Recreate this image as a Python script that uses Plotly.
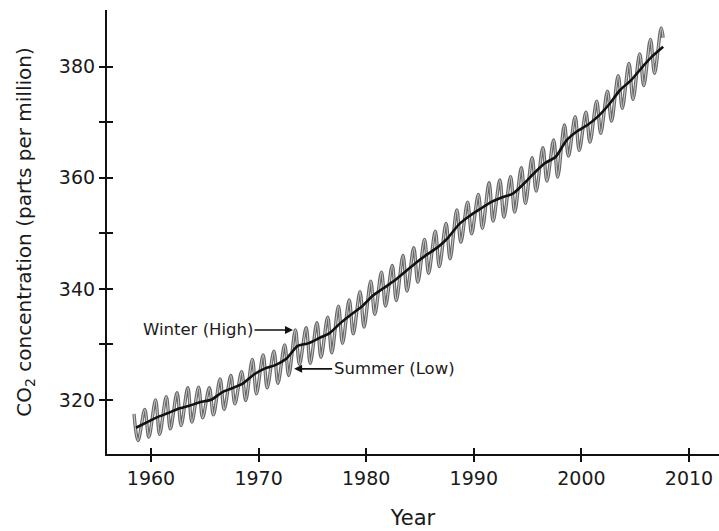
import plotly.graph_objects as go

# ---- data ----
trend_years = list(range(1958, 2008))
trend_ppm = [315.0, 315.97, 316.91, 317.64, 318.45, 318.99, 319.62, 320.04, 321.38, 322.16,
             323.04, 324.62, 325.68, 326.32, 327.45, 329.68, 330.18, 331.11, 332.04, 333.83,
             335.40, 336.84, 338.75, 340.11, 341.45, 343.05, 344.65, 346.12, 347.42, 349.19,
             351.57, 353.12, 354.39, 355.61, 356.45, 357.10, 358.83, 360.82, 362.61, 363.73,
             366.70, 368.38, 369.55, 371.14, 373.28, 375.80, 377.52, 379.80, 381.90, 383.60]

# seasonal maxima (late spring) and minima (early autumn), one per year
season_years = list(range(1958, 2008))
season_high = [317.5, 318.3, 320.0, 320.6, 321.3, 322.2, 322.3, 322.2, 323.8, 324.4,
               325.1, 327.3, 328.1, 328.8, 329.9, 332.6, 333.0, 333.9, 334.9, 336.9,
               338.0, 339.5, 341.4, 343.0, 344.2, 346.0, 347.4, 348.9, 350.4, 351.8,
               354.2, 355.6, 357.0, 359.1, 359.6, 360.2, 361.8, 363.6, 365.4, 366.8,
               369.5, 371.0, 371.8, 373.8, 375.6, 378.4, 380.6, 382.3, 384.9, 387.0]
season_low = [312.7, 313.3, 313.8, 314.8, 315.4, 316.0, 316.8, 317.3, 318.3, 319.3,
              319.9, 321.1, 322.2, 323.0, 324.4, 326.4, 326.6, 327.7, 328.5, 330.2,
              331.9, 333.1, 335.4, 336.9, 337.9, 339.6, 341.2, 342.8, 344.0, 345.4,
              348.4, 349.9, 350.9, 352.2, 352.9, 353.8, 355.4, 357.6, 359.4, 360.1,
              363.9, 364.9, 366.4, 368.0, 370.2, 372.5, 374.1, 376.6, 378.8]
last_year_end = 2007.6
last_value_end = 385.2

x_ticks = [1960, 1970, 1980, 1990, 2000, 2010]
y_ticks = [320, 340, 360, 380]
y_minor_ticks = [330, 350, 370]

# ---- build the seasonal curve (peak in May, trough in October) ----
gx, gy = [], []
for i, yr in enumerate(season_years):
    gx.append(yr + 0.42)
    gy.append(season_high[i])
    if i < len(season_low):
        gx.append(yr + 0.80)
        gy.append(season_low[i])
gx.append(last_year_end)
gy.append(last_value_end)

tx = [y + 0.6 for y in trend_years]

FONT = "DejaVu Sans"
fig = go.Figure()
fig.add_trace(go.Scatter(x=gx, y=gy, mode="lines",
                         line=dict(color="#666666", width=3.3, shape="spline", smoothing=1.0),
                         hoverinfo="skip", showlegend=False))
fig.add_trace(go.Scatter(x=gx, y=gy, mode="lines",
                         line=dict(color="#c8c8c8", width=1.2, shape="spline", smoothing=1.0),
                         hoverinfo="skip", showlegend=False))
fig.add_trace(go.Scatter(x=tx, y=trend_ppm, mode="lines",
                         line=dict(color="#111111", width=2.6, shape="spline", smoothing=0.6),
                         showlegend=False))
# empty trace on overlay axes that draw the inner half of the tick crosses
fig.add_trace(go.Scatter(x=[], y=[], xaxis="x2", yaxis="y2", showlegend=False))

xr = [1955.91, 2012.79]
yr_ = [310.27, 390.2]
TK = dict(ticklen=6, tickwidth=1.6, tickcolor="#111")

fig.update_layout(
    width=719, height=531,
    margin=dict(l=107, r=0, t=10, b=77),
    paper_bgcolor="white", plot_bgcolor="white",
    font=dict(family=FONT, color="#1a1a1a", size=19),
    xaxis=dict(range=xr, tickvals=x_ticks, ticks="outside", **TK,
               showline=True, linecolor="#111", linewidth=2.2,
               showgrid=False, zeroline=False, tickfont=dict(size=19),
               title=dict(text="Year", font=dict(size=21), standoff=22)),
    yaxis=dict(range=yr_, tickvals=y_ticks, ticks="outside", **TK,
               minor=dict(tickvals=y_minor_ticks, ticks="outside", showgrid=False, **TK),
               showline=True, linecolor="#111", linewidth=2.2,
               showgrid=False, zeroline=False, tickfont=dict(size=19),
               title=dict(text="CO<sub>2</sub> concentration (parts per million)",
                          font=dict(size=20), standoff=22)),
    xaxis2=dict(range=xr, overlaying="x", anchor="y", tickvals=x_ticks, ticks="inside", **TK,
                showticklabels=False, showline=False, showgrid=False, zeroline=False),
    yaxis2=dict(range=yr_, overlaying="y", anchor="x", side="left", tickvals=y_ticks,
                ticks="inside", **TK,
                minor=dict(tickvals=y_minor_ticks, ticks="inside", showgrid=False, **TK),
                showticklabels=False, showline=False, showgrid=False, zeroline=False),
    annotations=[
        dict(x=1973.2, y=332.6, xref="x", yref="y", text="Winter (High)", showarrow=True,
             ax=-95, ay=0, arrowhead=2, arrowsize=1, arrowwidth=1.6, arrowcolor="#111",
             font=dict(size=16.5, family=FONT, color="#1a1a1a")),
        dict(x=1973.3, y=325.6, xref="x", yref="y", text="Summer (Low)", showarrow=True,
             ax=100, ay=0, arrowhead=2, arrowsize=1, arrowwidth=1.6, arrowcolor="#111",
             font=dict(size=16.5, family=FONT, color="#1a1a1a")),
    ],
)

fig.write_html("out.html")
